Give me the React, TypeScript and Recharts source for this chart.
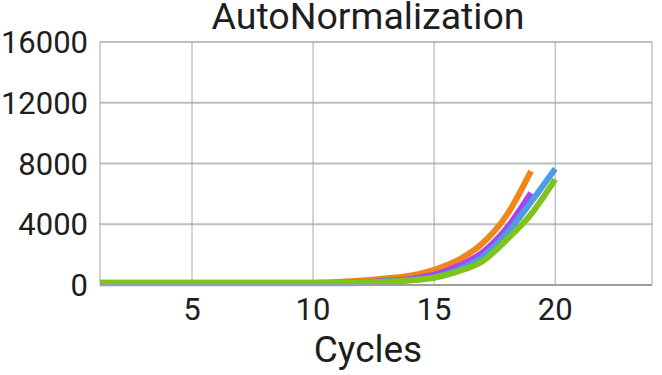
import React from 'react';
import { LineChart, Line, XAxis, YAxis, CartesianGrid } from 'recharts';

const cycles = [1, 2, 3, 4, 5, 6, 7, 8, 9, 10, 11, 12, 13, 14, 15, 16, 17, 18, 19, 20];
const orangeValues = [140, 140, 140, 140, 140, 140, 140, 140, 140, 145, 190, 300, 430, 620, 1000, 1650, 2750, 4600, 7500];
const purpleValues = [130, 130, 130, 130, 130, 130, 130, 130, 130, 130, 135, 170, 270, 400, 680, 1250, 2150, 3750, 6070];
const blueValues = [120, 120, 120, 120, 120, 120, 120, 120, 120, 120, 110, 130, 230, 330, 520, 1000, 1850, 3400, 5450, 7650];
const greenValues = [140, 140, 140, 140, 140, 140, 140, 140, 140, 140, 145, 170, 220, 300, 480, 900, 1570, 2980, 4650, 6950];
const xTicks = [5, 10, 15, 20];
const yTicks = [0, 4000, 8000, 12000, 16000];

const data = cycles.map((c, i) => ({
  cycle: c,
  orange: orangeValues[i],
  purple: purpleValues[i],
  blue: blueValues[i],
  green: greenValues[i],
}));

const FONT = 'Roboto, "DejaVu Sans", sans-serif';

export default function App() {
  return (
    <div style={{ position: 'absolute', left: 0, top: 0, width: 662, height: 375, background: '#fff' }}>
      <div style={{ position: 'absolute', left: 0, top: 0 }}>
        <LineChart width={662} height={375} data={data} margin={{ top: 42, right: 10, left: 0, bottom: 0 }}>
          <CartesianGrid vertical={false} stroke="#bdbdbd" strokeWidth={2} />
          <CartesianGrid horizontal={false} stroke="#a8a8a8" strokeWidth={1} />
          <XAxis
            dataKey="cycle"
            type="number"
            domain={[1.2, 24]}
            allowDataOverflow
            ticks={xTicks}
            height={90}
            tickSize={0}
            tickMargin={13}
            tickLine={false}
            axisLine={{ stroke: '#9e9e9e', strokeWidth: 2 }}
            tick={{ fontSize: 31, fill: '#1e1e1e', fontFamily: FONT }}
            label={{ value: 'Cycles', position: 'insideBottom', offset: 13, dx: -8, fontSize: 37, fill: '#1e1e1e', fontFamily: FONT }}
          />
          <YAxis
            type="number"
            domain={[0, 16000]}
            ticks={yTicks}
            width={100}
            tickSize={0}
            tickMargin={12}
            tickLine={false}
            axisLine={false}
            tick={{ fontSize: 31, fill: '#1e1e1e', fontFamily: FONT }}
          />
          <Line type="monotone" dataKey="orange" stroke="#f0861a" strokeWidth={6} dot={false} isAnimationActive={false} />
          <Line type="monotone" dataKey="purple" stroke="#a944ec" strokeWidth={6} dot={false} isAnimationActive={false} />
          <Line type="monotone" dataKey="blue" stroke="#4b9ee6" strokeWidth={6} dot={false} isAnimationActive={false} />
          <Line type="monotone" dataKey="green" stroke="#80c31d" strokeWidth={6} dot={false} isAnimationActive={false} />
        </LineChart>
      </div>
      <div
        style={{
          position: 'absolute',
          left: 368,
          top: 1,
          transform: 'translateX(-50%)',
          fontFamily: FONT,
          fontSize: 37.5,
          lineHeight: '30px',
          height: 30,
          whiteSpace: 'nowrap',
          color: '#1e1e1e',
        }}
      >
        AutoNormalization
      </div>
    </div>
  );
}
